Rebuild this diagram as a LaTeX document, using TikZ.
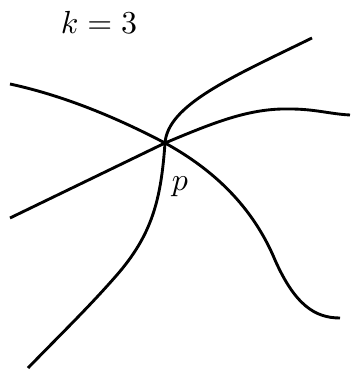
\documentclass[tikz,border=0pt]{standalone}
\usepackage{tikz}
\usepackage{amsmath,amssymb}

\begin{document}
\begin{tikzpicture}[x=0.011cm,y=-0.011cm,line width=0.9pt]
\useasboundingbox (0,0) rectangle (351,374);
\coordinate (p) at (165,143);
\node (kval) at (99,22) {$k=3$};
\node (plab) at (180,187) {$p$};
\draw
(10,84)..controls (70,97) and (125,122)..(p)
  ..controls (205,165) and (250,200)..(275,260)
  ..controls (295,305) and (315,318)..(340,318)
;
\draw
(10,218)--(p)
  ..controls (215,122) and (250,108)..(290,109)
  ..controls (315,109) and (330,114)..(350,115)
;
\draw
(312,38)..controls (230,78) and (168,105)..(p)
  ..controls (161,200) and (152,235)..(116,276)
  ..controls (88,308) and (60,335)..(28,368)
   %(165,143)--(180,187)
;
\end{tikzpicture}
\end{document}
